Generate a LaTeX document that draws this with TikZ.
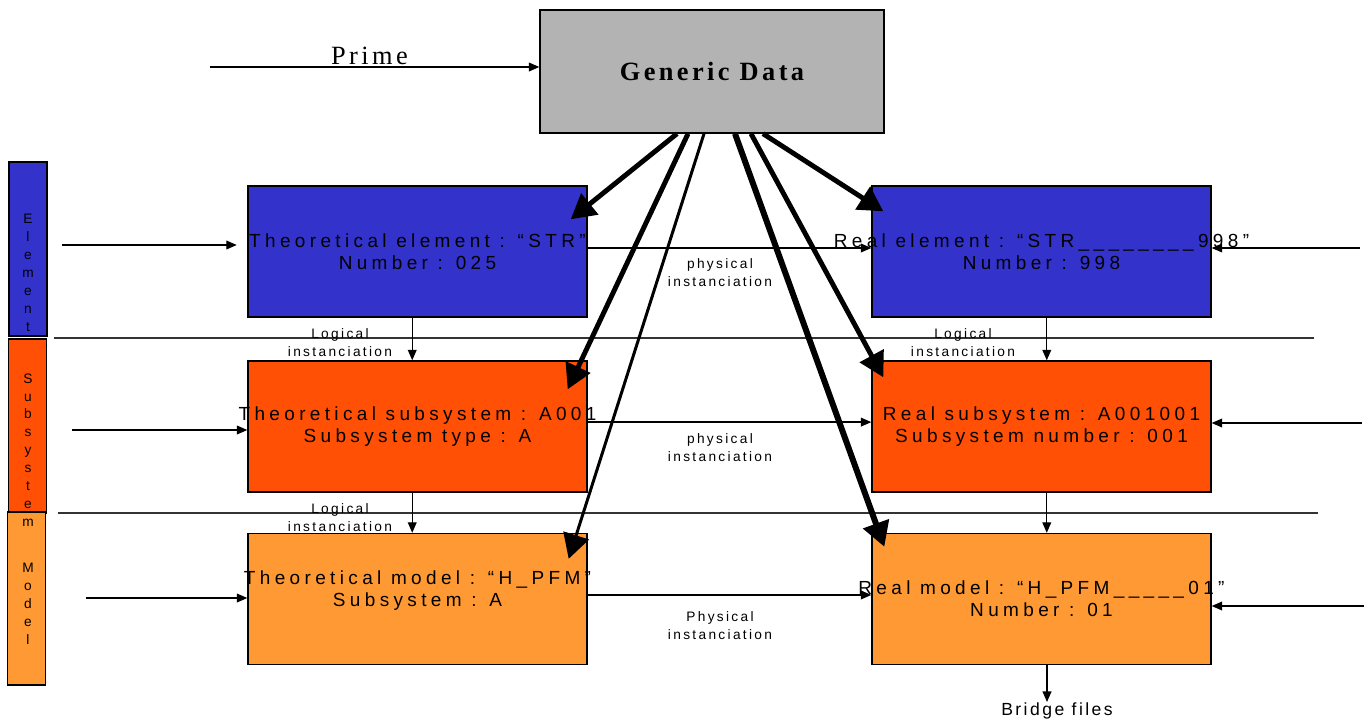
\documentclass[tikz,border=0pt]{standalone}
\usepackage{fontspec}
\setmainfont{Liberation Sans}
\newfontfamily\boxfont[LetterSpace=23]{Liberation Sans}
\newfontfamily\smallfont[LetterSpace=17]{Liberation Sans}
\newfontfamily\bridgefont[LetterSpace=14]{Liberation Sans}
\newfontfamily\titlefont[LetterSpace=13]{Liberation Serif}
\usetikzlibrary{arrows.meta,calc,positioning}
\definecolor{GenGray}{RGB}{179,179,179}
\definecolor{ElemBlue}{RGB}{51,51,204}
\definecolor{SubRed}{RGB}{255,80,5}
\definecolor{ModOrange}{RGB}{255,153,51}
% two text lines that may run over the box edges
\newcommand{\twolines}[2]{\makebox[0pt]{#1}\\\makebox[0pt]{#2}}

\begin{document}
\begin{tikzpicture}[x=0.02cm, y=-0.02cm,
  box/.style={draw, line width=0.8pt, minimum width=6.78cm, minimum height=2.62cm,
    inner sep=0pt, align=center, font={\boxfont\fontsize{10.8}{12.7}\selectfont}},
  bar/.style={draw, line width=0.8pt, minimum width=0.76cm, minimum height=3.48cm, inner sep=0pt},
  barlbl/.style={align=center, inner sep=0pt, font={\fontsize{7.8}{10.3}\selectfont}},
  lbl/.style={align=center, inner sep=0pt, font={\smallfont\fontsize{7.8}{10.2}\selectfont}},
  flow/.style={-{Triangle[length=6pt,width=5pt]}, line width=0.8pt},
  bigarrow/.style={-{Triangle[length=14pt,width=15pt]}, line width=2.8pt},
  sep/.style={black!80, line width=0.8pt}]
  \useasboundingbox (0,0) rectangle (1372,721);

  % Generic data and prime input
  \node[draw, fill=GenGray, line width=0.8pt, minimum width=6.88cm, minimum height=2.46cm,
    font={\titlefont\bfseries\fontsize{15}{18}\selectfont}] (gd) at (712,71.5) {Generic Data};
  \coordinate (primein) at (210,67);
  \draw[flow] (primein) -- (primein -| gd.west)
    node[midway, above=1pt, xshift=-3pt, inner sep=0pt, font={\titlefont\fontsize{15}{17}\selectfont}] {Prime};

  % Level bars on the left
  \node[bar, fill=ElemBlue] (barE) at (28,249) {};
  \node[bar, fill=SubRed] (barS) at (27.5,426) {};
  \node[bar, fill=ModOrange, minimum height=3.46cm] (barM) at (26.5,598.5) {};
  \node[barlbl] at (28,273) {E\\l\\e\\m\\e\\n\\t};
  \node[barlbl, font={\fontsize{7.8}{10.2}\selectfont}] at (28,450) {S\\u\\b\\s\\y\\s\\t\\e\\m};
  \node[barlbl, font={\fontsize{7.8}{10.2}\selectfont}] at (28,604) {M\\o\\d\\e\\l};

  % Separators
  \draw[sep] (54,338) -- (1314,338);
  \draw[sep] (58,513) -- (1318,513);

  % Theoretical / real boxes
  \node[box, fill=ElemBlue] (te) at (417.5,251.5) {\twolines{Theoretical element : “STR”}{Number : 025}};
  \node[box, fill=ElemBlue] (re) at (1041.5,251.5) {\twolines{Real element : “STR\_\_\_\_\_\_\_\_998”}{Number : 998}};
  \node[box, fill=SubRed] (ts) at (417.5,426.5) {\twolines{Theoretical subsystem : A001}{Subsystem type : A}};
  \node[box, fill=SubRed] (rs) at (1041.5,426.5) {\twolines{Real subsystem : A001001}{Subsystem number : 001}};
  \node[box, fill=ModOrange, text depth=12pt] (tm) at (417.5,599) {\twolines{Theoretical model : “H\_PFM”}{Subsystem : A}};
  \node[box, fill=ModOrange] (rm) at (1041.5,599) {\twolines{Real model : “H\_PFM\_\_\_\_\_01”}{Number : 01}};

  % Inputs from the left
  \coordinate (inE) at (62,245);
  \coordinate (inS) at (72,430);
  \coordinate (inM) at (86,598);
  \draw[flow, shorten >=6pt] (inE) -- (inE -| te.west);
  \draw[flow] (inS) -- (inS -| ts.west);
  \draw[flow] (inM) -- (inM -| tm.west);

  % Inputs from the right
  \coordinate (rinE) at (1360,248);
  \coordinate (rinS) at (1362,423);
  \coordinate (rinM) at (1364,606);
  \draw[flow] (rinE) -- (rinE -| re.east);
  \draw[flow] (rinS) -- (rinS -| rs.east);
  \draw[flow] (rinM) -- (rinM -| rm.east);

  % Physical instanciation
  \draw[flow] ([yshift=2pt]te.east) -- ([yshift=2pt]re.west);
  \draw[flow] ([yshift=2.5pt]ts.east) -- ([yshift=2.5pt]rs.west);
  \draw[flow] ([yshift=2.3pt]tm.east) -- ([yshift=2.3pt]rm.west);
  \node[lbl] (phys1) at (720,273) {physical\\instanciation};
  \node[lbl] (phys2) at (720,448) {physical\\instanciation};
  \node[lbl] (phys3) at (720,626) {Physical\\instanciation};

  % Logical instanciation
  \draw[flow] ([xshift=-3pt]te.south) -- ([xshift=-3pt]ts.north);
  \draw[flow] ([xshift=-3pt]ts.south) -- ([xshift=-3pt]tm.north);
  \draw[flow] ([xshift=3pt]re.south) -- ([xshift=3pt]rs.north);
  \draw[flow] ([xshift=3pt]rs.south) -- ([xshift=3pt]rm.north);
  \node[lbl] (log1) at (340,343) {Logical\\instanciation};
  \node[lbl] (log2) at (340,518) {Logical\\instanciation};
  \node[lbl] (log3) at (963,343) {Logical\\instanciation};

  % Bridge files
  \node[anchor=north, inner sep=0pt, font={\bridgefont\fontsize{10}{12}\selectfont}] (bridge) at (1057,702) {Bridge files};
  \coordinate (rmout) at ($(rm.south)+(5.5,0)$);
  \draw[flow] (rmout) -- (rmout |- bridge.north);

  % Generic data feeds every box
  \draw[bigarrow] ($(gd.south)+(-35,0)$) -- ($(te.north east)+(-17,34)$);
  \draw[bigarrow] ($(gd.south)+(-24,0)$) -- ($(ts.north east)+(-20,29)$);
  \draw[bigarrow, line width=1.7pt] ($(gd.south)+(-8,0)$) -- ($(tm.north east)+(-19,26)$);
  \draw[bigarrow, line width=3.4pt] ($(gd.south)+(23,0)$) -- ($(rm.north west)+(13,14)$);
  \draw[bigarrow] ($(gd.south)+(39,0)$) -- ($(rs.north west)+(12,17)$);
  \draw[bigarrow] ($(gd.south)+(51,0)$) -- ($(re.north west)+(12,26)$);
\end{tikzpicture}
\end{document}
